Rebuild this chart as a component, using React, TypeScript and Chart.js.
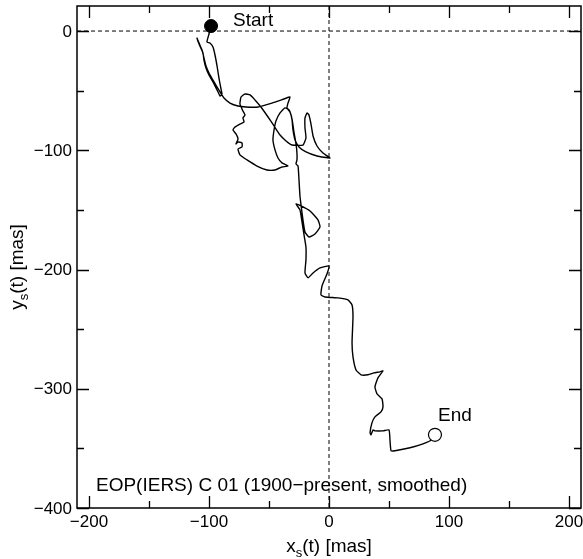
import React, { useEffect, useRef } from "react";
import { Chart, registerables } from "chart.js";

Chart.register(...registerables);

// Smoothed pole path x_s(t), y_s(t) in mas (1900 -> present)
const pathX = [
  -98.3, -100, -101.7, -99.2, -96.7, -95, -93.3, -91.7, -90, -89.2, -90.8, -92.5, -95.8, -100, -102.5, -104.2, -105,
  -108.3, -110, -108.3, -105.8, -104.2, -102.5, -100, -95.8, -91.7, -87.5, -82.5, -75.8, -69.2, -59.2, -47.5, -37.5,
  -32.5, -34.2, -35, -32.5, -30.8, -30, -28.3, -25, -19.2, -10, 0.8, -5, -10, -13.3, -15, -16.7, -18.3, -20, -20,
  -19.2, -21.7, -30.8, -35.8, -40.8, -45.8, -50.8, -56.7, -61.7, -65.8, -70, -73.3, -74.2, -71.7, -70, -71.7, -70.8,
  -74.2, -78.3, -80, -77.5, -75.8, -77.5, -75.8, -72.5, -72.5, -75.8, -74.2, -68.3, -60, -51.7, -45, -39.2, -34.2,
  -39.2, -42.5, -45, -46.7, -45.8, -44.2, -40.8, -36.7, -33.3, -30.8, -29.2, -27.5, -26.7, -26.7, -27.5, -25.8, -25,
  -24.2, -23.3, -21.7, -20, -16.7, -11.7, -7.5, -9.2, -15.8, -23.3, -27.5, -24.2, -22.5, -20.8, -19.2, -19.2, -20,
  -17.5, -13.3, -7.5, 0, -1.7, -5.8, -6.7, -3.3, 7.5, 15.8, 19.2, 20, 19.2, 20, 22.5, 26.7, 32.5, 37.5, 42.5, 45,
  40.8, 38.3, 40, 44.2, 45, 43.3, 38.3, 35.8, 34.2, 35, 36.7, 38.3, 45, 50, 50.8, 51.7, 55, 67.5, 78.3, 85.8, 88.3,
];
const pathY = [
  4.2, -2.5, -9.2, -10.1, -13.4, -20.1, -29.3, -39.4, -48.6, -52.8, -54.5, -51.1, -44.4, -36.9, -31, -24.3, -18.4,
  -10.9, -5.9, -10.1, -15.9, -22.6, -29.3, -35.2, -42.7, -49.5, -56.2, -60.4, -62.9, -63.7, -63.7, -60.4, -57,
  -55.3, -60.4, -64.5, -67.9, -74.6, -83, -91.4, -97.2, -101.4, -104.8, -106.5, -102.3, -96.4, -88, -78, -70.4, -68.7,
  -72.9, -81.3, -89.7, -95.6, -95.6, -92.2, -87.2, -79.6, -72.1, -63.7, -57.8, -53.6, -52.8, -55.3, -61.2, -67.1,
  -70.4, -72.9, -76.3, -78, -80.5, -83, -86.3, -90.5, -94.7, -93, -93.9, -97.2, -98.9, -103.9, -108.1, -113.2,
  -116.5, -116.5, -114, -113.2, -110.6, -106.5, -99.7, -91.4, -83, -75.4, -68.7, -64.5, -66.2, -73.8, -84.7, -94.7,
  -102.3, -108.1, -111.5, -113.2, -124.9, -138.3, -145.9, -158.4, -168.5, -172.7, -170.2, -164.3, -158.4, -150.9,
  -146.7, -145, -150, -160.1, -171, -181.1, -191.9, -202.9, -207, -202.9, -198.7, -197, -203.7, -213.7, -221.3, -223,
  -223.8, -225.5, -229.7, -239.7, -261.5, -273.3, -284.2, -288.3, -288.3, -286.7, -285.8, -285, -290.9, -298.4,
  -304.3, -308.5, -315.2, -319.4, -323.6, -328.6, -337, -338.6, -334.5, -335.3, -335.3, -334.5, -342.8, -352, -352,
  -349.5, -346.2, -342.8, -338.6,
];

const startPoint = { x: -98.3, y: 4.2 };
const endPoint = { x: 88.3, y: -338.6 };

const xMajorTicks = [-200, -100, 0, 100, 200];
const xMinorTicks = [-150, -50, 50, 150];
const yMajorTicks = [0, -100, -200, -300, -400];
const yMinorTicks = [-50, -150, -250, -350];
const xLimits = [-210, 210];
const yLimits = [-400, 21];

const startLabel = "Start";
const endLabel = "End";
const noteText = "EOP(IERS) C 01 (1900\u2212present, smoothed)";

const FONT = '"Liberation Sans", Arial, Helvetica, sans-serif';

const fmt = (v: number) => (v < 0 ? "\u2212" + Math.abs(v) : String(v));

function drawSubText(ctx: CanvasRenderingContext2D, parts: [string, boolean][], size: number) {
  const subSize = Math.round(size * 0.7);
  let total = 0;
  for (const [t, sub] of parts) {
    ctx.font = `${sub ? subSize : size}px ${FONT}`;
    total += ctx.measureText(t).width;
  }
  let cx = -total / 2;
  for (const [t, sub] of parts) {
    ctx.font = `${sub ? subSize : size}px ${FONT}`;
    ctx.fillText(t, cx, sub ? size * 0.28 : 0);
    cx += ctx.measureText(t).width;
  }
}

const framePlugin = {
  id: "frame",
  beforeDatasetsDraw(chart: any) {
    const { ctx, chartArea: a, scales } = chart;
    const x0 = scales.x.getPixelForValue(0);
    const y0 = scales.y.getPixelForValue(0);
    ctx.save();
    ctx.strokeStyle = "#000";
    ctx.lineWidth = 1;
    ctx.setLineDash([4, 3]);
    ctx.beginPath();
    ctx.moveTo(a.left, y0);
    ctx.lineTo(a.right, y0);
    ctx.moveTo(x0, a.top);
    ctx.lineTo(x0, a.bottom);
    ctx.stroke();
    ctx.restore();
  },
  afterDraw(chart: any) {
    const { ctx, chartArea: a, scales } = chart;
    const sx = scales.x;
    const sy = scales.y;
    ctx.save();
    ctx.strokeStyle = "#000";
    ctx.lineWidth = 1.5;
    ctx.setLineDash([]);
    ctx.strokeRect(a.left, a.top, a.right - a.left, a.bottom - a.top);
    ctx.lineWidth = 1.3;
    const major = 12;
    const minor = 7;
    ctx.beginPath();
    const xt = (vals: number[], len: number) => {
      for (const v of vals) {
        const px = Math.round(sx.getPixelForValue(v)) + 0.5;
        ctx.moveTo(px, a.bottom);
        ctx.lineTo(px, a.bottom - len);
        ctx.moveTo(px, a.top);
        ctx.lineTo(px, a.top + len);
      }
    };
    const yt = (vals: number[], len: number) => {
      for (const v of vals) {
        const py = Math.round(sy.getPixelForValue(v)) + 0.5;
        ctx.moveTo(a.left, py);
        ctx.lineTo(a.left + len, py);
        ctx.moveTo(a.right, py);
        ctx.lineTo(a.right - len, py);
      }
    };
    xt(xMajorTicks, major);
    xt(xMinorTicks, minor);
    yt(yMajorTicks, major);
    yt(yMinorTicks, minor);
    ctx.stroke();

    ctx.fillStyle = "#000";
    ctx.font = `17px ${FONT}`;
    ctx.textAlign = "center";
    ctx.textBaseline = "alphabetic";
    for (const v of xMajorTicks) {
      ctx.fillText(fmt(v), sx.getPixelForValue(v), a.bottom + 19);
    }
    ctx.textAlign = "right";
    ctx.textBaseline = "middle";
    for (const v of yMajorTicks) {
      ctx.fillText(fmt(v), a.left - 5, sy.getPixelForValue(v) + 1);
    }

    ctx.textBaseline = "alphabetic";
    ctx.textAlign = "left";
    ctx.font = `19px ${FONT}`;
    const sp = { x: sx.getPixelForValue(startPoint.x), y: sy.getPixelForValue(startPoint.y) };
    ctx.fillText(startLabel, sp.x + 22, sp.y + 0);
    const ep = { x: sx.getPixelForValue(endPoint.x), y: sy.getPixelForValue(endPoint.y) };
    ctx.fillText(endLabel, ep.x + 3, ep.y - 14);
    ctx.fillText(noteText, a.left + 19, a.bottom - 17);

    ctx.save();
    ctx.translate((a.left + a.right) / 2, 552);
    drawSubText(ctx, [["x", false], ["s", true], ["(t) [mas]", false]], 19);
    ctx.restore();
    ctx.save();
    ctx.translate(23, (a.top + a.bottom) / 2 + 10);
    ctx.rotate(-Math.PI / 2);
    drawSubText(ctx, [["y", false], ["s", true], ["(t) [mas]", false]], 19);
    ctx.restore();
    ctx.restore();
  },
};

export default function App() {
  const ref = useRef<HTMLCanvasElement | null>(null);
  useEffect(() => {
    if (!ref.current) return;
    const pathData = pathX.map((x, i) => ({ x, y: pathY[i] }));
    const chart = new Chart(ref.current, {
      type: "scatter",
      data: {
        datasets: [
          {
            label: "start",
            data: [startPoint],
            pointRadius: 6.5,
            pointBackgroundColor: "#000",
            pointBorderColor: "#000",
            pointBorderWidth: 1,
            showLine: false,
            order: 1,
          },
          {
            label: "end",
            data: [endPoint],
            pointRadius: 6.5,
            pointBackgroundColor: "#fff",
            pointBorderColor: "#000",
            pointBorderWidth: 1.2,
            showLine: false,
            order: 1,
          },
          {
            label: "path",
            data: pathData,
            showLine: true,
            borderColor: "#000",
            borderWidth: 1.4,
            pointRadius: 0,
            tension: 0.15,
            fill: false,
            order: 2,
          },
        ],
      },
      options: {
        responsive: false,
        animation: false,
        events: [],
        layout: { autoPadding: false, padding: { top: 6, right: 2, left: 0, bottom: 0 } },
        plugins: { legend: { display: false }, tooltip: { enabled: false } },
        scales: {
          x: {
            type: "linear",
            min: xLimits[0],
            max: xLimits[1],
            grid: { display: false, drawTicks: false },
            border: { display: false },
            ticks: { display: false },
            afterFit: (s: any) => {
              s.height = 51;
              s.paddingLeft = 0;
              s.paddingRight = 0;
            },
          },
          y: {
            type: "linear",
            min: yLimits[0],
            max: yLimits[1],
            grid: { display: false, drawTicks: false },
            border: { display: false },
            ticks: { display: false },
            afterFit: (s: any) => {
              s.width = 77;
              s.paddingTop = 0;
              s.paddingBottom = 0;
            },
          },
        },
      },
      plugins: [framePlugin],
    });
    return () => chart.destroy();
  }, []);
  return (
    <div style={{ position: "fixed", left: 0, top: 0, width: 583, height: 559, background: "#fff" }}>
      <canvas ref={ref} width={583} height={559} style={{ display: "block" }} />
    </div>
  );
}
